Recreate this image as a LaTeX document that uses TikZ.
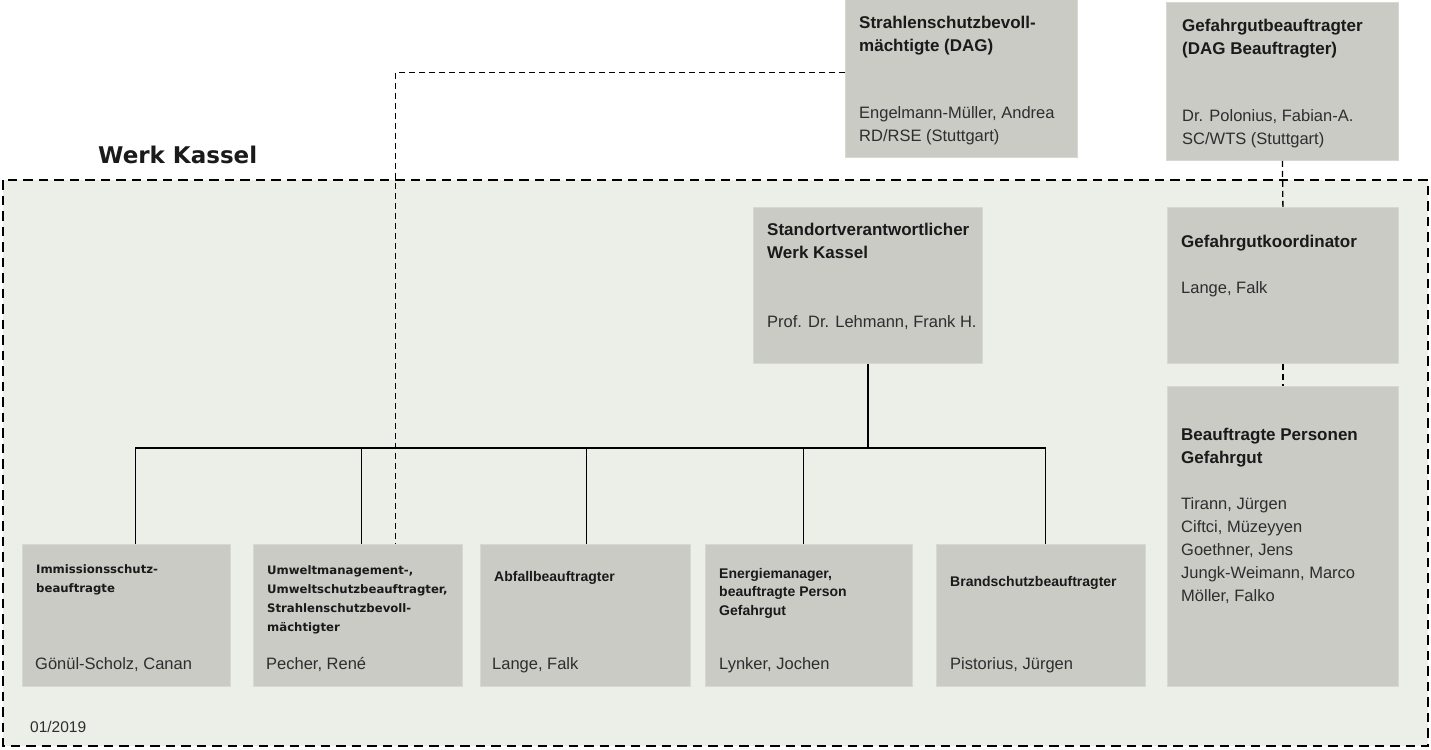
\documentclass[tikz,border=0pt]{standalone}
\usepackage{fontspec}
\setmainfont{Liberation Sans}
\newfontfamily\dejavu{DejaVu Sans}
\usepackage{tikz}
\definecolor{plant}{HTML}{ECEEE8}
\definecolor{boxgray}{HTML}{C9CBC4}
\definecolor{boxedge}{HTML}{D6D8D1}
\definecolor{ink}{HTML}{1A1A1A}
\definecolor{inkname}{HTML}{2E2E2E}
\newcommand{\unitbox}[5]{\node[orgbox,minimum width=#4pt,minimum height=#5pt] (#1) at (#2,#3) {};}

\begin{document}
\begin{tikzpicture}[x=1pt,y=-1pt,
   orgbox/.style={fill=boxgray,draw=boxedge,line width=0.8pt,anchor=north west,inner sep=0pt},
   ttl/.style={font=\bfseries\fontsize{17}{23}\selectfont,text=ink,align=left,anchor=base west,inner sep=0pt},
   who/.style={font=\fontsize{16.5}{23}\selectfont,text=inkname,align=left,anchor=base west,inner sep=0pt},
   sttl/.style={font=\dejavu\bfseries\fontsize{11.7}{19}\selectfont,text=ink,align=left,anchor=base west,inner sep=0pt},
   mttl/.style={font=\bfseries\fontsize{14}{18.5}\selectfont,text=ink,align=left,anchor=base west,inner sep=0pt},
   wire/.style={draw=black,line width=1.3pt},
   link/.style={draw=black,line width=1.3pt,dash pattern=on 6pt off 4pt},
   frame/.style={draw=black,line width=2.6pt,dash pattern=on 9.5pt off 6pt}]
\useasboundingbox (0,0) rectangle (1431,749);
% plant area
\fill[plant] (3,180) rectangle (1428,746);
\draw[frame] (3,180) rectangle (1428,746);
\node[anchor=base west,inner sep=0pt,text=ink,font=\dejavu\bfseries\fontsize{23}{28}\selectfont] (plant) at (98,163) {Werk Kassel};
\node[who,font=\fontsize{15.5}{20}\selectfont] (date) at (30,732) {01/2019};
% boxes: name, left, top, width, height
\unitbox{dag}{845}{-2}{232}{159}
\unitbox{gbt}{1166}{2}{232}{158}
\unitbox{std}{753}{207}{229}{156}
\unitbox{gko}{1167}{207}{231}{156}
\unitbox{bpg}{1167}{386}{231}{300}
\unitbox{imm}{22}{544}{208}{142}
\unitbox{umw}{253}{544}{209}{142}
\unitbox{abf}{480}{544}{210}{142}
\unitbox{ene}{705}{544}{207}{142}
\unitbox{brd}{936}{544}{209}{142}
% lines
\coordinate (bus) at (std.south |- 0,448);
\draw[wire] (std.south) -- (bus);
\foreach \b/\dx in {imm/9,umw/3.5,abf/1,ene/-5.5,brd/4.5}{
  \draw[wire] (bus) -| ([xshift=\dx pt]\b.north);}
\draw[link] ([yshift=5.5pt]dag.west) -| ([xshift=37.5pt]umw.north);
\draw[link] (gbt.south) -- (gko.north);
\draw[link] (gko.south) -- (bpg.north);
% texts (multi-line nodes sit on their last baseline)
\node[ttl] (dagT) at (859,52) {Strahlenschutzbevoll-\\mächtigte (DAG)};
\node[who] (dagN) at (859,142) {Engelmann-Müller, Andrea\\RD/RSE (Stuttgart)};
\node[ttl] (gbtT) at (1182,55) {Gefahrgutbeauftragter\\(DAG Beauftragter)};
\node[who] (gbtN) at (1182,144) {Dr. Polonius, Fabian-A.\\SC/WTS (Stuttgart)};
\node[ttl] (stdT) at (767,258) {Standortverantwortlicher\\Werk Kassel};
\node[who] (stdN) at (767,327) {Prof. Dr. Lehmann, Frank H.};
\node[ttl] (gkoT) at (1181,247) {Gefahrgutkoordinator};
\node[who] (gkoN) at (1181,293) {Lange, Falk};
\node[ttl] (bpgT) at (1181,463) {Beauftragte Personen\\Gefahrgut};
\foreach \p [count=\k from 0] in {{Tirann, Jürgen},{Ciftci, Müzeyyen},{Goethner, Jens},{Jungk-Weimann, Marco},{Möller, Falko}}{
  \node[who] (bpg\k) at (1181,509+23*\k) {\p};}
\node[sttl] (immT) at (36,592) {Immissionsschutz-\\beauftragte};
\node[who] (immN) at (35,669) {Gönül-Scholz, Canan};
\node[sttl] (umwT) at (267,631) {Umweltmanagement-,\\Umweltschutzbeauftragter,\\Strahlenschutzbevoll-\\mächtigter};
\node[who] (umwN) at (266,669) {Pecher, René};
\node[mttl] (abfT) at (494,581) {Abfallbeauftragter};
\node[who] (abfN) at (492,669) {Lange, Falk};
\node[mttl] (eneT) at (719,615) {Energiemanager,\\beauftragte Person\\Gefahrgut};
\node[who] (eneN) at (719,669) {Lynker, Jochen};
\node[mttl] (brdT) at (950,586) {Brandschutzbeauftragter};
\node[who] (brdN) at (950,669) {Pistorius, Jürgen};
\end{tikzpicture}
\end{document}
